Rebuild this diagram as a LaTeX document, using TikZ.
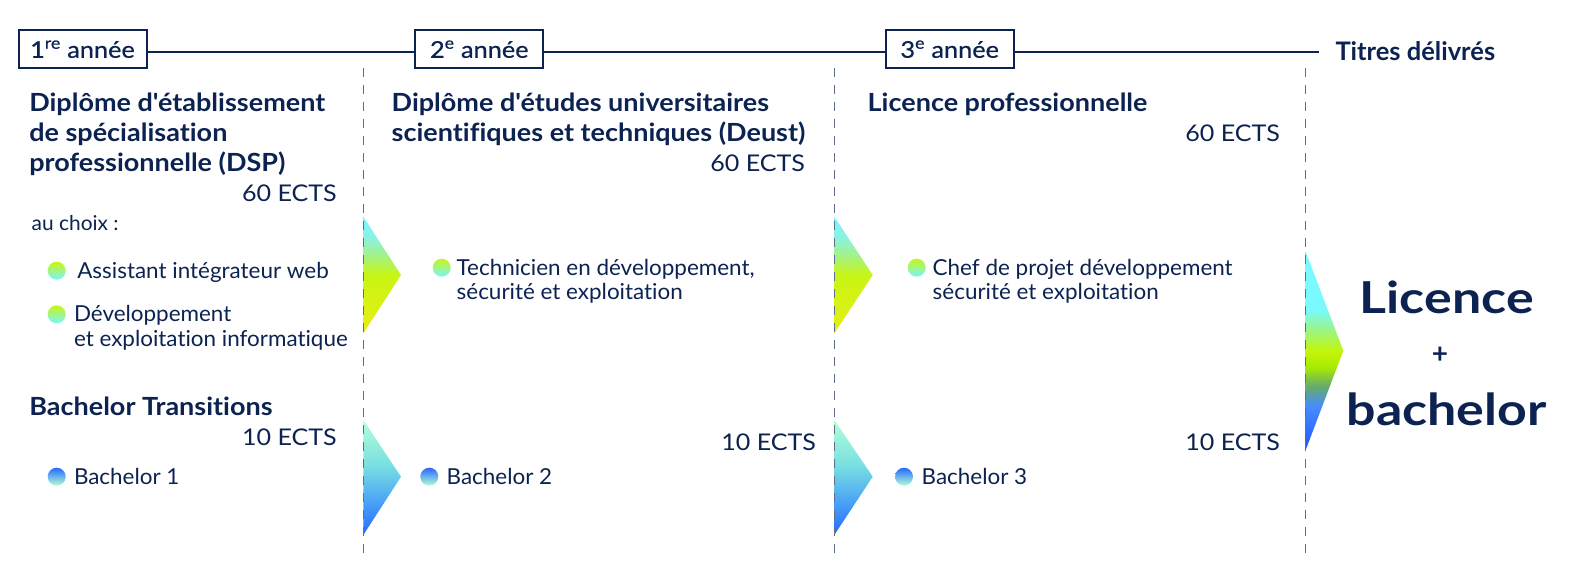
\documentclass[tikz,border=0pt]{standalone}
\usepackage{fontspec}
\setmainfont[Ligatures=NoCommon]{Lato}
\newfontfamily\medfont[FakeBold=0.6,FakeStretch=1.1,Ligatures=NoCommon]{Lato}
\newfontfamily\ttlfont[FakeStretch=1.08,Ligatures=NoCommon]{Lato}
\newfontfamily\itemfont[FakeStretch=1.02,Ligatures=NoCommon]{Lato}
\newfontfamily\ectsfont[FakeStretch=1.09]{Lato}
\newfontfamily\bigfont[FakeStretch=1.18,Ligatures=NoCommon]{Lato}
\definecolor{navy}{RGB}{12,35,82}
\definecolor{guidec}{RGB}{95,110,140}
% DSP arrow colours
\definecolor{dY}{RGB}{232,238,20}
\definecolor{dL}{RGB}{200,245,20}
\definecolor{dG}{RGB}{165,242,130}
\definecolor{dC2}{RGB}{140,242,225}
\definecolor{dC}{RGB}{120,245,255}
% bachelor arrow colours
\definecolor{bB}{RGB}{40,105,255}
\definecolor{bM}{RGB}{75,165,245}
\definecolor{bT}{RGB}{120,222,225}
\definecolor{bW}{RGB}{180,255,215}
% big arrow colours
\definecolor{gC}{RGB}{120,250,255}
\definecolor{gLG}{RGB}{150,245,150}
\definecolor{gL}{RGB}{195,245,10}
\definecolor{gL2}{RGB}{170,235,0}
\definecolor{gGr}{RGB}{100,170,110}
\definecolor{gB}{RGB}{70,140,255}
\definecolor{gD}{RGB}{35,85,255}
\pgfdeclareverticalshading{dspgrad}{100bp}{color(0bp)=(dY); color(25bp)=(dY); color(50bp)=(dL); color(58bp)=(dG); color(66bp)=(dC2); color(75bp)=(dC); color(100bp)=(dC)}
\pgfdeclareverticalshading{bacgrad}{100bp}{color(0bp)=(bB); color(25bp)=(bB); color(40bp)=(bM); color(55bp)=(bT); color(75bp)=(bW); color(100bp)=(bW)}
\pgfdeclareverticalshading{biggrad}{100bp}{color(0bp)=(gD); color(25bp)=(gD); color(36bp)=(gB); color(41bp)=(gGr); color(46bp)=(gL2); color(50bp)=(gL); color(56bp)=(gLG); color(60.5bp)=(gC); color(75bp)=(gC); color(100bp)=(gC)}
\tikzset{
  every node/.style={text=navy, inner sep=0pt, outer sep=0pt},
  yearbox/.style={draw=navy, line width=2pt, minimum width=128pt, minimum height=38pt, font=\medfont\fontsize{23}{28}\selectfont},
  hline/.style={draw=navy, line width=2pt},
  guide/.style={draw=guidec, line width=1pt, dash pattern=on 9pt off 8pt},
  ttl/.style={anchor=base west, font=\ttlfont\bfseries\fontsize{25}{30}\selectfont},
  ects/.style={anchor=base east, font=\ectsfont\fontsize{23}{28}\selectfont},
  item/.style={anchor=base west, font=\itemfont\fontsize{22}{26}\selectfont},
  smalltxt/.style={anchor=base west, font=\itemfont\fontsize{20.5}{24}\selectfont},
  dotA/.style={circle, minimum size=18pt, top color=dL, bottom color=dC},
  dotB/.style={circle, minimum size=18pt, top color=bB, bottom color=bW},
  big/.style={anchor=base, font=\bigfont\bfseries\fontsize{44}{50}\selectfont},
}
\begin{document}
\begin{tikzpicture}[x=1pt,y=-1pt]
\useasboundingbox (0,0) rectangle (1591,575);
\fill[white] (0,0) rectangle (1591,575);

% arrows (gradient triangles)
\shade[shading=dspgrad] (363.3,216.7) -- (401,275) -- (363.3,333.3) -- cycle;
\shade[shading=dspgrad] (834.3,216.7) -- (872.7,275) -- (834.3,333.3) -- cycle;
\shade[shading=bacgrad] (363.3,420) -- (401,476.7) -- (363.3,535) -- cycle;
\shade[shading=bacgrad] (834.3,420) -- (872.7,476.7) -- (834.3,535) -- cycle;
\shade[shading=biggrad] (1305.7,251.7) -- (1343.3,350.7) -- (1305.7,450) -- cycle;

% dashed guides
\coordinate (d1t) at (363.3,68); \coordinate (d1b) at (363.3,560);
\coordinate (d2t) at (834.3,68); \coordinate (d2b) at (834.3,560);
\coordinate (d3t) at (1305.7,68); \coordinate (d3b) at (1305.7,560);
\draw[guide] (d1t) -- (d1b);
\draw[guide] (d2t) -- (d2b);
\draw[guide] (d3t) -- (d3b);

% header
\node[yearbox] (y1) at (82.5,49.2) {1\textsuperscript{re} année};
\node[yearbox] (y2) at (479.3,49.2) {2\textsuperscript{e} année};
\node[yearbox] (y3) at (949.7,49.2) {3\textsuperscript{e} année};
\coordinate (hl) at (0,52);
\coordinate (lend) at (1319.3,52);
\draw[hline] (y1.east |- hl) -- (y2.west |- hl);
\draw[hline] (y2.east |- hl) -- (y3.west |- hl);
\draw[hline] (y3.east |- hl) -- (lend);
\node[anchor=base west, font=\bfseries\fontsize{25.5}{30}\selectfont] (titres) at (1335.5,60.7) {Titres délivrés};

% column 1
\node[ttl] (c1t1) at (29.3,111.7) {Diplôme d'établissement};
\node[ttl] (c1t2) at (29.3,141.7) {de spécialisation};
\node[ttl] (c1t3) at (29.3,171.7) {professionnelle (DSP)};
\node[ects] (c1e) at (336.7,201.7) {60 ECTS};
\node[smalltxt] (c1ch) at (31.7,230.7) {au choix :};
\node[dotA] (c1d1) at (56.7,270.7) {};
\node[item] (c1i1) at (77.3,278.3) {Assistant intégrateur web};
\node[dotA] (c1d2) at (56.7,314.3) {};
\node[item] (c1i2a) at (74,321.7) {Développement};
\node[item] (c1i2b) at (74,346) {et exploitation informatique};
\node[ttl] (c1b) at (29.3,415) {Bachelor Transitions};
\node[ects] (c1be) at (336.7,445) {10 ECTS};
\node[dotB] (c1d3) at (56.7,476.7) {};
\node[item] (c1b1) at (74,484) {Bachelor 1};

% column 2
\node[ttl] (c2t1) at (391.7,111.7) {Diplôme d'études universitaires};
\node[ttl] (c2t2) at (391.7,141.7) {scientifiques et techniques (Deust)};
\node[ects] (c2e) at (805,171.7) {60 ECTS};
\node[dotA] (c2d1) at (441.7,267.7) {};
\node[item] (c2i1a) at (456.7,275) {Technicien en développement,};
\node[item] (c2i1b) at (456.7,299.3) {sécurité et exploitation};
\node[ects] (c2be) at (816,450) {10 ECTS};
\node[dotB] (c2d2) at (429.3,476.7) {};
\node[item] (c2b2) at (446.7,484) {Bachelor 2};

% column 3
\node[ttl] (c3t1) at (867.7,111.7) {Licence professionnelle};
\node[ects] (c3e) at (1280,141.7) {60 ECTS};
\node[dotA] (c3d1) at (916.7,267.7) {};
\node[item] (c3i1a) at (932.7,275) {Chef de projet développement};
\node[item] (c3i1b) at (932.7,299.3) {sécurité et exploitation};
\node[ects] (c3be) at (1280,450) {10 ECTS};
\node[dotB] (c3d2) at (904,476.7) {};
\node[item] (c3b3) at (921.7,484) {Bachelor 3};

% result
\node[big] (res1) at (1446.7,313.3) {Licence};
\node[font=\bfseries\fontsize{28}{30}\selectfont] (res2) at (1440,355) {+};
\node[big] (res3) at (1446.7,425) {bachelor};
\end{tikzpicture}
\end{document}
